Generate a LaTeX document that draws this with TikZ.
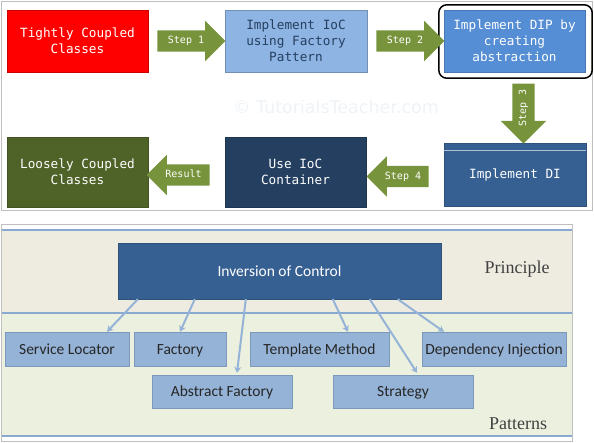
\documentclass[tikz,border=0pt]{standalone}
\usepackage{fontspec}
\setmainfont{Carlito}
\newfontfamily\monofont{DejaVu Sans Mono}
\newfontfamily\seriffont{Liberation Serif}
\newfontfamily\markfont{DejaVu Sans}
\usetikzlibrary{shapes.arrows, arrows.meta}
\usepackage{xcolor}

\definecolor{tightred}{HTML}{FF0000}
\definecolor{factoryblue}{HTML}{8EB4E3}
\definecolor{dipblue}{HTML}{558ED5}
\definecolor{diblue}{HTML}{366092}
\definecolor{navy}{HTML}{243F60}
\definecolor{loosegreen}{HTML}{4F6228}
\definecolor{stepgreen}{HTML}{77933C}
\definecolor{patternblue}{HTML}{95B3D7}
\definecolor{lineblue}{HTML}{8AA9D0}
\definecolor{beige}{HTML}{EEECE1}
\definecolor{palegreen}{HTML}{EBF0DF}
\definecolor{markgray}{HTML}{EFF3F6}

\begin{document}
\begin{tikzpicture}[x=1pt, y=-1pt,
    stagebox/.style={rectangle, minimum width=141pt, minimum height=62pt, inner sep=0pt,
      align=center, text=white, font=\monofont\fontsize{12.7}{16}\selectfont},
    steparrow/.style={single arrow, fill=stepgreen, text=white, inner xsep=2pt, inner ysep=6pt,
      text height=7pt, text depth=2pt, single arrow head extend=9.5pt,
      font=\monofont\fontsize{10}{12}\selectfont},
    patternbox/.style={rectangle, draw=lineblue!90!black, fill=patternblue, minimum height=34pt,
      inner sep=0pt, text height=10pt, text depth=0pt, text=black!85,
      font=\fontsize{15.5}{18}\selectfont},
    link/.style={draw=patternblue, line width=2pt, -{Stealth[length=6pt, width=7pt]}}]

      \useasboundingbox (0,0) rectangle (594,442);

      % top panel
      \draw[black!25] (1.5,1.5) rectangle (592.5,210.5);
      \node[text=markgray, font=\markfont\fontsize{17.5}{20}\selectfont] (mark) at (336,107) {© TutorialsTeacher.com};

      \node[stagebox, fill=tightred, draw=red!80!black] (tight) at (77.5,41) {Tightly Coupled\\Classes};
      \node[stagebox, fill=factoryblue, draw=factoryblue!80!black, text=navy, minimum width=142pt] (factory) at (296,41) {Implement IoC\\using Factory\\Pattern};
      \node[stagebox, fill=dipblue, draw=dipblue!85!black] (dip) at (514.5,41) {Implement DIP by\\creating\\abstraction};
      \node[stagebox, fill=diblue, draw=diblue!85!black, minimum width=142pt, minimum height=63pt] (implement) at (515,174.5) {Implement DI};
      \node[stagebox, fill=navy, draw=navy!85!black, minimum height=70pt] (container) at (295.5,172) {Use IoC\\Container};
      \node[stagebox, fill=loosegreen, draw=loosegreen!85!black, minimum height=70pt] (loose) at (77.5,172) {Loosely Coupled\\Classes};

      \draw[rounded corners=8pt, line width=1.5pt] ([shift={(-5pt,5pt)}]dip.north west) rectangle ([shift={(7pt,-6pt)}]dip.south east);
      \draw[white!60!diblue] ([yshift=-7pt]implement.north west) -- ([yshift=-7pt]implement.north east);

      \node[steparrow, minimum height=68pt] (step1) at (186,41) {Step 1};
      \node[steparrow, minimum height=68pt] (step2) at (405,41) {Step 2};
      \node[steparrow, minimum height=60pt, rotate=90, shape border rotate=180, inner ysep=6.5pt,
        single arrow head extend=11.5pt] (step3) at (523.5,108) {Step 3};
      \node[steparrow, minimum height=62pt, shape border rotate=180] (step4) at (403,176.5) {Step 4};
      \node[steparrow, minimum height=63pt, shape border rotate=180] (result) at (183.5,175) {Result};

      % bottom panel
      \draw[black!25] (1.5,224) rectangle (572,441);
      \fill[beige] (2,230) rectangle (571.5,313);
      \fill[palegreen] (2,313) rectangle (571.5,436);
      \foreach \y in {230, 313, 436}
        \draw[lineblue, line width=1.3pt] (2,\y) -- (571.5,\y);

      \node[rectangle, fill=diblue, draw=diblue!85!black, minimum width=323pt, minimum height=56pt,
        text=white, font=\fontsize{15.5}{18}\selectfont] (ioc) at (279.5,271) {Inversion of Control};
      \node[text=black!75, font=\seriffont\fontsize{18}{20}\selectfont] (principle) at (517,269) {Principle};
      \node[text=black!75, font=\seriffont\fontsize{18}{20}\selectfont] (patterns) at (518,424) {Patterns};

      \node[patternbox, minimum width=124pt] (locator) at (67,349) {Service Locator};
      \node[patternbox, minimum width=92pt] (fact) at (180,349) {Factory};
      \node[patternbox, minimum width=139pt] (template) at (319.5,349) {Template Method};
      \node[patternbox, minimum width=144pt] (injection) at (494,349) {Dependency Injection};
      \node[patternbox, minimum width=140pt, minimum height=33pt] (abstract) at (222,391.5) {Abstract Factory};
      \node[patternbox, minimum width=140pt, minimum height=33pt] (strategy) at (403,391.5) {Strategy};

      \draw[link] ([xshift=20pt]ioc.south west) -- ([xshift=40pt]locator.north);
      \draw[link] ([xshift=77pt]ioc.south west) -- (fact.north);
      \draw[link] ([xshift=128pt]ioc.south west) -- ([shift={(15pt,2pt)}]abstract.north);
      \draw[link] ([xshift=215pt]ioc.south west) -- ([xshift=28.5pt]template.north);
      \draw[link] ([xshift=252pt]ioc.south west) -- ([shift={(14pt,2pt)}]strategy.north);
      \draw[link] ([xshift=280pt]ioc.south west) -- ([xshift=-50pt]injection.north);
    \end{tikzpicture}
\end{document}
